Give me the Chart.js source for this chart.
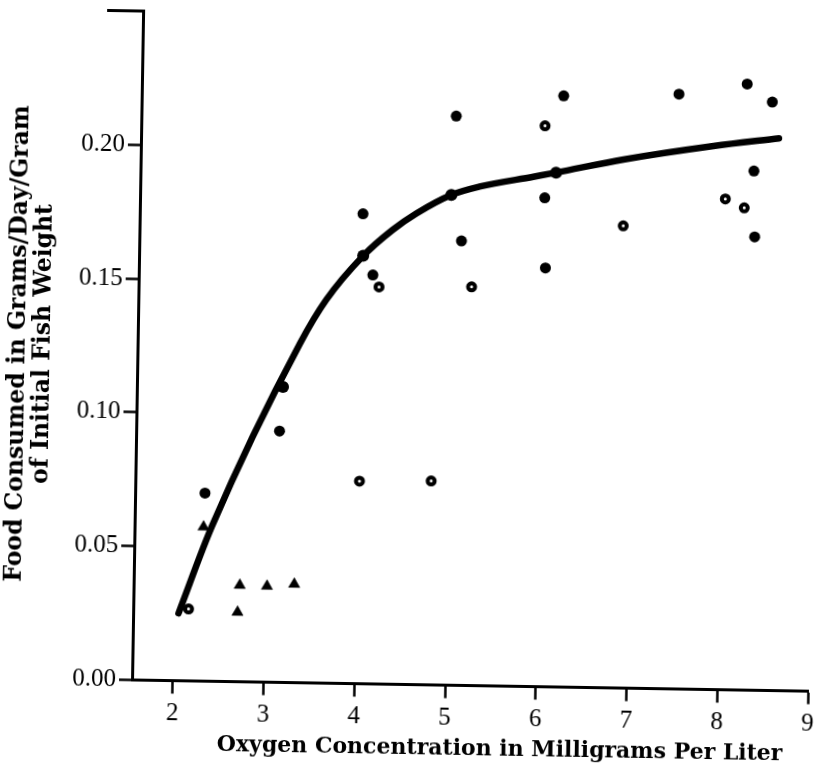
<!DOCTYPE html>
<html><head><meta charset="utf-8">
<script src="https://cdn.jsdelivr.net/npm/chart.js@4"></script>
<style>
html,body{margin:0;padding:0;background:#fff;overflow:hidden;width:816px;height:765px}
#c{display:block;transform-origin:408px 382.5px;transform:rotate(0.95deg)}
</style></head><body>
<canvas id="c" width="840" height="765"></canvas>
<script>
const xTitle = 'Oxygen Concentration in Milligrams Per Liter';
const yTitle = ['Food Consumed in Grams/Day/Gram', 'of Initial Fish Weight'];
const xTicks = [2, 3, 4, 5, 6, 7, 8, 9];
const yTicks = [0.00, 0.05, 0.10, 0.15, 0.20];
const xMin = 1.55, xMax = 9, yMin = 0, yMax = 0.25;

// filled circles
const filledX = [2.32, 3.13, 4.01, 4.13, 5.02, 5.10, 6.20, 6.01, 6.03, 7.47, 8.22, 8.50, 8.31, 8.33];
const filledY = [0.0703, 0.0939, 0.1756, 0.1528, 0.2127, 0.1661, 0.2209, 0.1827, 0.1565, 0.2223, 0.2265, 0.2199, 0.1940, 0.1694];
// filled circles lying on the fitted curve
const onCurveX = [3.16, 4.02, 4.98, 6.13];
const onCurveY = [0.1104, 0.1599, 0.1832, 0.1922];
// open circles
const openX = [2.16, 4.02, 4.81, 4.20, 5.22, 6.00, 6.88, 8.00, 8.21];
const openY = [0.0269, 0.0757, 0.0762, 0.1484, 0.1490, 0.2096, 0.1727, 0.1834, 0.1802];
// triangles
const triX = [2.31, 2.72, 3.02, 3.32, 2.70];
const triY = [0.0576, 0.0361, 0.0359, 0.0368, 0.0260];
// fitted curve
const curveX = [2.05, 2.40, 3.34, 3.62, 4.02, 4.34, 4.60, 4.98, 5.29, 5.88, 6.13, 6.87, 7.86, 8.58];
const curveY = [0.0252, 0.0577, 0.1268, 0.1432, 0.1599, 0.1698, 0.1761, 0.1832, 0.1865, 0.1905, 0.1922, 0.1975, 0.2031, 0.2064];

const pts = (xs, ys) => xs.map((x, i) => ({x: x, y: ys[i]}));
const tickFont = {family: 'Liberation Serif', size: 25, lineHeight: 1.0};
const xTitleFont = {family: 'DejaVu Serif', size: 22, weight: 'bold'};
const yTitleFont = {family: 'DejaVu Serif', size: 23.5, weight: 'bold', lineHeight: 1.05};

const capPlugin = {
  id: 'cap',
  afterDraw(chart) {
    const ctx = chart.ctx, ys = chart.scales.y;
    const py = ys.getPixelForValue(yMax);
    const left = chart.chartArea.left;
    ctx.save();
    ctx.strokeStyle = '#000';
    ctx.lineWidth = 3;
    ctx.beginPath();
    ctx.moveTo(left - 36, py);
    ctx.lineTo(left + 1.5, py);
    ctx.stroke();
    ctx.restore();
  }
};

new Chart(document.getElementById('c'), {
  type: 'scatter',
  data: {
    datasets: [
      {label: 'curve', data: pts(curveX, curveY), showLine: true, borderColor: '#000', borderWidth: 6.5,
       cubicInterpolationMode: 'monotone', pointRadius: 0, borderCapStyle: 'round', borderJoinStyle: 'round', order: 5},
      {label: 'on curve', data: pts(onCurveX, onCurveY), pointStyle: 'circle', pointRadius: 6,
       backgroundColor: '#000', borderWidth: 0, order: 1},
      {label: 'filled', data: pts(filledX, filledY), pointStyle: 'circle', pointRadius: 5.5,
       backgroundColor: '#000', borderWidth: 0, order: 2},
      {label: 'open', data: pts(openX, openY), pointStyle: 'circle', pointRadius: 3.5,
       backgroundColor: '#fff', borderColor: '#000', borderWidth: 4, order: 3},
      {label: 'triangle', data: pts(triX, triY), pointStyle: 'triangle', pointRadius: 6.5,
       backgroundColor: '#000', borderColor: '#000', borderWidth: 0.5, order: 4}
    ]
  },
  options: {
    responsive: false,
    animation: false,
    layout: {padding: {left: 0, right: 27, top: 14, bottom: 0}},
    plugins: {legend: {display: false}, tooltip: {enabled: false}},
    scales: {
      x: {
        type: 'linear', min: xMin, max: xMax,
        afterBuildTicks: s => { s.ticks = xTicks.map(v => ({value: v})); },
        afterFit: s => { s.height = 80.5; },
        ticks: {font: tickFont, color: '#000', padding: 7, callback: v => String(v)},
        grid: {drawOnChartArea: false, drawTicks: true, tickLength: 13, tickWidth: 2.5, tickColor: '#000'},
        border: {color: '#000', width: 3},
        title: {display: true, text: '\u00a0\u00a0\u00a0\u00a0\u00a0\u00a0\u00a0\u00a0' + xTitle, font: xTitleFont, color: '#000', padding: {top: 0, bottom: 4}}
      },
      y: {
        type: 'linear', min: yMin, max: yMax,
        afterBuildTicks: s => { s.ticks = yTicks.map(v => ({value: v})); },
        afterFit: s => { s.width = 137; },
        ticks: {font: tickFont, color: '#000', padding: 3, callback: v => v.toFixed(2)},
        grid: {drawOnChartArea: false, drawTicks: true, tickLength: 13, tickWidth: 2.5, tickColor: '#000'},
        border: {color: '#000', width: 3},
        title: {display: true, text: yTitle, font: yTitleFont, color: '#000', padding: {top: 6, bottom: 0}}
      }
    }
  },
  plugins: [capPlugin]
});
</script>
</body></html>
